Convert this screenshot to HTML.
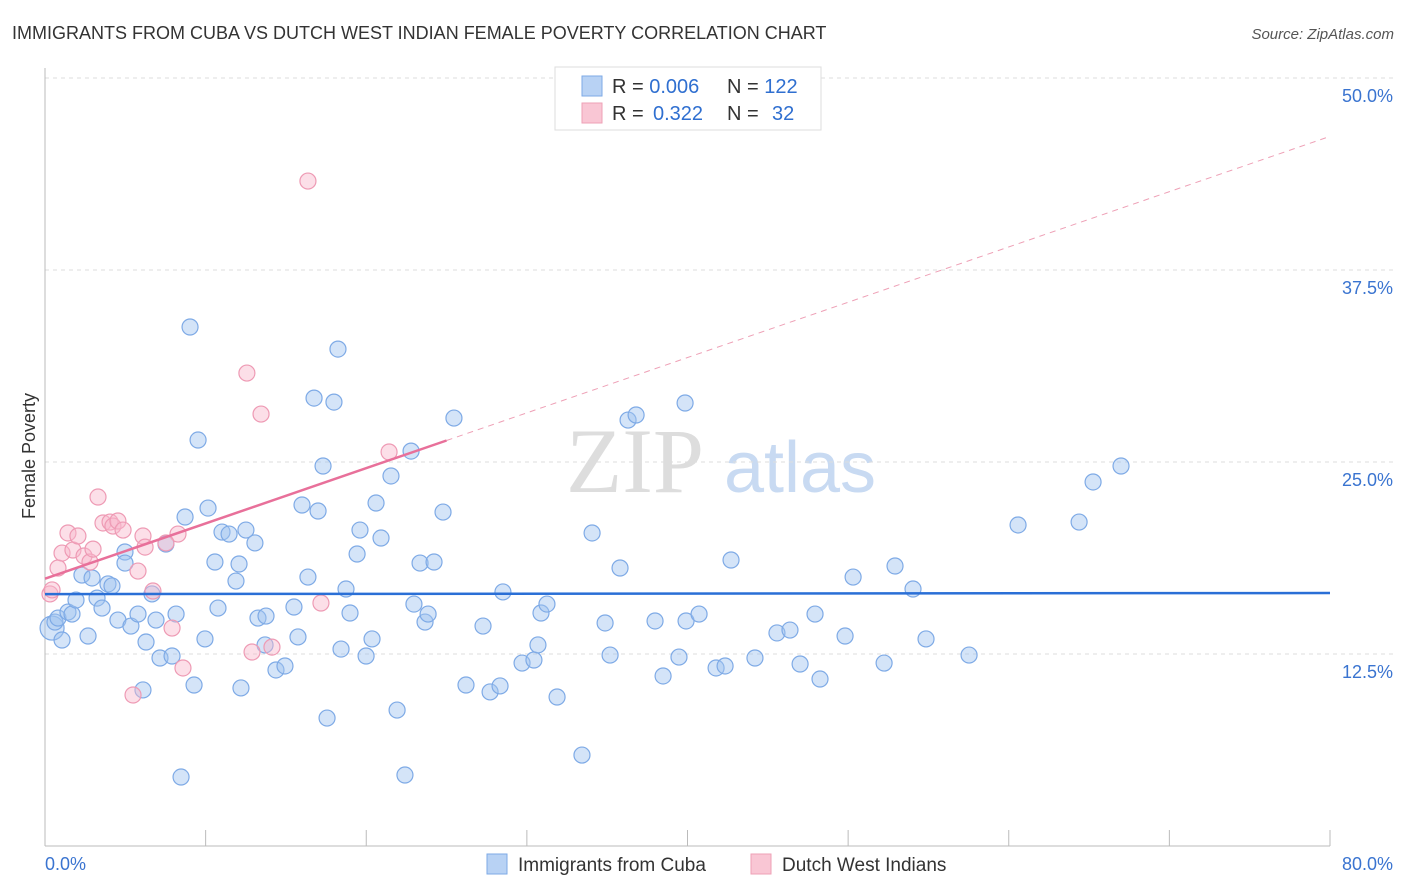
<!DOCTYPE html>
<html><head><meta charset="utf-8"><style>
body{margin:0;background:#fff;font-family:"Liberation Sans",sans-serif;}
#wrap{position:relative;width:1406px;height:892px;overflow:hidden;}
</style></head><body>
<div id="wrap">
<svg id="svg" width="1406" height="892" xmlns="http://www.w3.org/2000/svg">
<text x="12" y="39" font-size="18" fill="#333">IMMIGRANTS FROM CUBA VS DUTCH WEST INDIAN FEMALE POVERTY CORRELATION CHART</text>
<text x="1394" y="39" font-size="15" fill="#555" font-style="italic" text-anchor="end">Source: ZipAtlas.com</text>
<text x="35" y="456" font-size="18" fill="#333" text-anchor="middle" transform="rotate(-90 35 456)">Female Poverty</text>
<g>
<text x="635" y="492" font-size="92" fill="#ddd" font-family="Liberation Serif,serif" text-anchor="middle">ZIP</text>
<text x="800" y="492" font-size="72" fill="#c8daf2" text-anchor="middle">atlas</text>
</g>
<g id="grid"></g><g id="axes"></g><g id="marks"></g>
<g>
<rect x="555" y="67" width="266" height="63" fill="#fff" stroke="#ddd"/>
<rect x="582" y="76" width="20" height="20" fill="#b8d2f4" stroke="#7eaae6"/>
<rect x="582" y="103" width="20" height="20" fill="#f9c6d4" stroke="#eea0b6"/>
<text x="612" y="93" font-size="20" fill="#333">R = <tspan fill="#2f6fd0">0.006</tspan></text>
<text x="727" y="93" font-size="20" fill="#333">N = <tspan fill="#2f6fd0">122</tspan></text>
<text x="612" y="120" font-size="20" fill="#333">R = <tspan fill="#2f6fd0" x="653">0.322</tspan></text>
<text x="727" y="120" font-size="20" fill="#333">N = <tspan fill="#2f6fd0" x="772">32</tspan></text>
</g>
<g>
<rect x="487" y="854" width="20" height="20" fill="#b8d2f4" stroke="#7eaae6"/>
<text x="518" y="871" font-size="19" fill="#333">Immigrants from Cuba</text>
<rect x="751" y="854" width="20" height="20" fill="#f9c6d4" stroke="#eea0b6"/>
<text x="782" y="871" font-size="19" fill="#333">Dutch West Indians</text>
</g>
</svg>
</div>
<script>
const yTicks=[12.5,25,37.5,50];
const xTicks=[0,10,20,30,40,50,60,70,80];
const blueX=[0.44,0.62,0.81,1.06,1.43,1.68,1.93,2.30,2.68,2.93,3.24,3.55,3.92,4.17,4.54,4.98,4.98,5.35,5.79,6.10,6.29,6.66,6.91,7.16,7.53,7.91,8.16,8.47,8.72,9.03,9.28,9.53,9.96,10.15,10.58,10.77,11.02,11.46,11.89,12.08,12.20,12.51,13.07,13.26,13.70,13.76,14.38,14.94,15.50,15.75,16.00,16.37,16.75,17.00,17.31,17.56,17.99,18.24,18.43,18.74,18.99,19.43,19.61,19.99,20.36,20.61,20.92,21.54,21.92,22.41,22.79,22.97,23.35,23.66,23.85,24.22,24.78,25.46,26.21,27.27,27.71,28.33,28.51,29.70,30.44,30.69,30.88,31.25,31.88,33.43,34.06,34.87,35.18,35.80,36.30,36.80,37.98,38.48,39.47,39.85,39.91,40.72,41.78,42.34,42.71,44.20,45.57,46.38,47.01,47.94,48.25,49.81,50.31,52.24,52.92,54.04,54.85,57.53,60.58,64.38,65.25,66.99];
const blueY=[14.19,14.58,14.84,13.41,15.23,15.10,16.01,17.64,13.67,17.45,16.14,15.49,17.06,16.93,14.71,19.14,18.42,14.32,15.10,10.16,13.28,16.41,14.71,12.24,19.66,12.37,15.10,4.49,21.42,33.79,10.48,26.43,13.48,22.00,18.49,15.49,20.44,20.31,17.25,18.36,10.29,20.57,19.73,14.84,13.09,14.97,11.46,11.72,15.56,13.61,22.20,17.51,29.16,21.81,24.74,8.33,28.90,32.35,12.82,16.73,15.17,19.01,20.57,12.37,13.48,22.33,20.05,24.09,8.85,4.62,25.71,15.75,18.42,14.58,15.10,18.49,21.74,27.86,10.48,14.32,10.03,10.42,16.54,11.91,12.11,13.09,15.17,15.75,9.70,5.92,20.38,14.52,12.43,18.10,27.73,28.06,14.65,11.07,12.30,28.84,14.65,15.10,11.59,11.72,18.62,12.24,13.87,14.06,11.85,15.10,10.87,13.67,17.51,11.91,18.23,16.73,13.48,12.43,20.90,21.09,23.70,24.74];
const pinkX=[0.31,0.44,0.81,1.06,1.43,1.74,2.05,2.43,2.80,2.99,3.30,3.61,4.05,4.23,4.54,4.86,5.48,5.79,6.10,6.23,6.72,7.91,8.28,8.59,12.57,12.89,13.45,14.13,16.37,17.18,21.42,7.53];
const pinkY=[16.41,16.67,18.10,19.07,20.38,19.27,20.18,18.88,18.49,19.33,22.72,21.03,21.09,20.83,21.16,20.57,9.83,17.90,20.18,19.46,16.60,14.19,20.31,11.59,30.79,12.63,28.12,12.95,43.29,15.82,25.65,19.73];
const blueTrend=[16.4,16.47];
const pinkTrend=[17.4,0.36];
const NS="http://www.w3.org/2000/svg";
const X=v=>45+v/80*1285, Y=v=>846-v/12.5*192;
function mk(t,a,p){const e=document.createElementNS(NS,t);for(const k in a)e.setAttribute(k,a[k]);p.appendChild(e);return e;}
const grid=document.getElementById('grid'),axes=document.getElementById('axes'),marks=document.getElementById('marks');
yTicks.forEach(t=>{
 const l=mk('line',{x1:45,x2:1394,y1:Y(t),y2:Y(t),stroke:'#ddd','stroke-dasharray':'4,4'},grid);
 
 
 const tx=mk('text',{x:1393,y:Y(t)+24,'font-size':18,fill:'#3a74d0','text-anchor':'end'},axes);
 tx.textContent=t.toFixed(1)+'%';
 
 
});
mk('line',{x1:45,x2:45,y1:68,y2:846,stroke:'#bbb'},axes);
mk('line',{x1:45,x2:1330,y1:846,y2:846,stroke:'#bbb'},axes);
xTicks.forEach(t=>{
 const l=mk('line',{x1:X(t),x2:X(t),y1:830,y2:846,stroke:'#bbb'},axes);
 
 
});
[[0,'start'],[80,'end']].forEach(([t,a])=>{
 const tx=mk('text',{x:t?1393:45,y:870,'font-size':18,fill:'#3a74d0','text-anchor':a},axes);
 tx.textContent=t.toFixed(1)+'%';
 
 
});
blueX.forEach((x,i)=>{
 const c=mk('circle',{cx:X(x),cy:Y(blueY[i]),r:i==0?12:8,fill:'rgba(160,196,240,0.45)',stroke:'#7eaae6','stroke-width':1.2},marks);
 
 
});
pinkX.forEach((x,i)=>{
 const c=mk('circle',{cx:X(x),cy:Y(pinkY[i]),r:8,fill:'rgba(248,184,204,0.45)',stroke:'#ee9ab4','stroke-width':1.2},marks);
 
 
});
const bl=mk('line',{x1:X(0),y1:Y(blueTrend[0]),x2:X(80),y2:Y(blueTrend[1]),stroke:'#2a6fd6','stroke-width':2.5},marks);


const pe=25;
const pl=mk('line',{x1:X(0),y1:Y(pinkTrend[0]),x2:X(pe),y2:Y(pinkTrend[0]+pinkTrend[1]*pe),stroke:'#e8709a','stroke-width':2.5},marks);


const pd=mk('line',{x1:X(pe),y1:Y(pinkTrend[0]+pinkTrend[1]*pe),x2:X(80),y2:Y(pinkTrend[0]+pinkTrend[1]*80),stroke:'#eea0b6','stroke-width':1,'stroke-dasharray':'6,5'},marks);


</script>
</body></html>
